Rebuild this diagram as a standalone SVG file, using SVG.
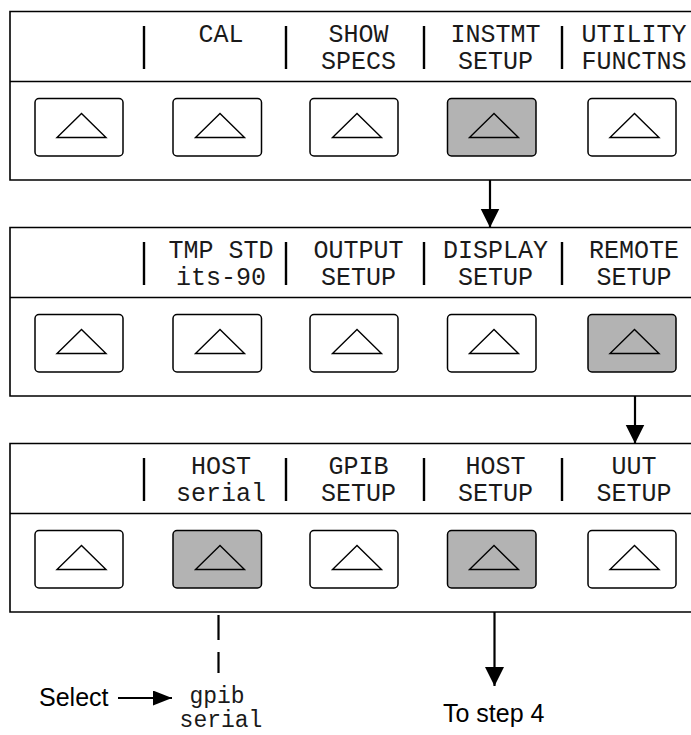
<svg xmlns="http://www.w3.org/2000/svg" width="691" height="735" viewBox="0 0 691 735">
<style>
.panel{fill:#fff;stroke:#000;stroke-width:1.6}
.div{stroke:#000;stroke-width:1.6}
.sep{stroke:#000;stroke-width:2.4}
.btn{fill:#fff;stroke:#000;stroke-width:1.5}
.on{fill:#b3b3b3}
.tri{fill:none;stroke:#000;stroke-width:1.4}
.lcd{font-family:"Liberation Mono","DejaVu Sans Mono",monospace;font-size:25px;fill:#1a1a1a;text-anchor:middle}
.sm{font-size:23px}
.lbl{font-family:"Liberation Sans",Arial,sans-serif;font-size:25px;fill:#000}
.conn{stroke:#000;stroke-width:2.2;fill:none}
</style>
<defs>
<marker id="ah" markerUnits="userSpaceOnUse" markerWidth="20" markerHeight="20" refX="19" refY="9.5" orient="auto">
<path d="M0,0 L19,9.5 L0,19 z" fill="#000"/>
</marker>
<marker id="ahs" markerUnits="userSpaceOnUse" markerWidth="20" markerHeight="16" refX="19" refY="7.5" orient="auto">
<path d="M0,0 L19,7.5 L0,15 z" fill="#000"/>
</marker>
</defs>

<!-- Panel 1 -->
<g id="panel1">
<path class="panel" d="M700,11.5 H10 V180 H700"/>
<line class="div" x1="10" y1="81.5" x2="700" y2="81.5"/>
<line class="sep" x1="144" y1="26" x2="144" y2="69"/>
<line class="sep" x1="286" y1="26" x2="286" y2="69"/>
<line class="sep" x1="424" y1="26" x2="424" y2="69"/>
<line class="sep" x1="562" y1="26" x2="562" y2="69"/>
<text class="lcd" x="221" y="42">CAL</text>
<text class="lcd" x="358.5" y="42">SHOW</text>
<text class="lcd" x="358.5" y="69">SPECS</text>
<text class="lcd" x="495.5" y="42">INSTMT</text>
<text class="lcd" x="495.5" y="69">SETUP</text>
<text class="lcd" x="634" y="42">UTILITY</text>
<text class="lcd" x="634" y="69">FUNCTNS</text>
</g>
<g id="p1b1"><rect class="btn" x="35" y="98.5" width="88" height="57.5" rx="4"/><polygon class="tri" points="81.5,113.5 57,137.5 106,137.5"/></g>
<g id="p1b2"><rect class="btn" x="173" y="98.5" width="88.5" height="57.5" rx="4"/><polygon class="tri" points="220,113.5 195.5,137.5 244.5,137.5"/></g>
<g id="p1b3"><rect class="btn" x="310" y="98.5" width="88" height="57.5" rx="4"/><polygon class="tri" points="357,113.5 332.5,137.5 381.5,137.5"/></g>
<g id="p1b4"><rect class="btn on" x="447.5" y="98.5" width="88.5" height="57.5" rx="4"/><polygon class="tri" points="494,113.5 469.5,137.5 518.5,137.5"/></g>
<g id="p1b5"><rect class="btn" x="588" y="98.5" width="88" height="57.5" rx="4"/><polygon class="tri" points="634.5,113.5 610,137.5 659,137.5"/></g>

<!-- Panel 2 -->
<g id="panel2">
<path class="panel" d="M700,227.5 H10 V396 H700"/>
<line class="div" x1="10" y1="297.5" x2="700" y2="297.5"/>
<line class="sep" x1="144" y1="242" x2="144" y2="285"/>
<line class="sep" x1="286" y1="242" x2="286" y2="285"/>
<line class="sep" x1="424" y1="242" x2="424" y2="285"/>
<line class="sep" x1="562" y1="242" x2="562" y2="285"/>
<text class="lcd" x="221" y="258">TMP STD</text>
<text class="lcd" x="221" y="285">its-90</text>
<text class="lcd" x="358.5" y="258">OUTPUT</text>
<text class="lcd" x="358.5" y="285">SETUP</text>
<text class="lcd" x="495.5" y="258">DISPLAY</text>
<text class="lcd" x="495.5" y="285">SETUP</text>
<text class="lcd" x="634" y="258">REMOTE</text>
<text class="lcd" x="634" y="285">SETUP</text>
</g>
<g id="p2b1"><rect class="btn" x="35" y="314.5" width="88" height="57.5" rx="4"/><polygon class="tri" points="81.5,329.5 57,353.5 106,353.5"/></g>
<g id="p2b2"><rect class="btn" x="173" y="314.5" width="88.5" height="57.5" rx="4"/><polygon class="tri" points="220,329.5 195.5,353.5 244.5,353.5"/></g>
<g id="p2b3"><rect class="btn" x="310" y="314.5" width="88" height="57.5" rx="4"/><polygon class="tri" points="357,329.5 332.5,353.5 381.5,353.5"/></g>
<g id="p2b4"><rect class="btn" x="447.5" y="314.5" width="88.5" height="57.5" rx="4"/><polygon class="tri" points="494,329.5 469.5,353.5 518.5,353.5"/></g>
<g id="p2b5"><rect class="btn on" x="588" y="314.5" width="88" height="57.5" rx="4"/><polygon class="tri" points="634.5,329.5 610,353.5 659,353.5"/></g>

<!-- Panel 3 -->
<g id="panel3">
<path class="panel" d="M700,443.5 H10 V612 H700"/>
<line class="div" x1="10" y1="513.5" x2="700" y2="513.5"/>
<line class="sep" x1="144" y1="458" x2="144" y2="501"/>
<line class="sep" x1="286" y1="458" x2="286" y2="501"/>
<line class="sep" x1="424" y1="458" x2="424" y2="501"/>
<line class="sep" x1="562" y1="458" x2="562" y2="501"/>
<text class="lcd" x="221" y="474">HOST</text>
<text class="lcd" x="221" y="501">serial</text>
<text class="lcd" x="358.5" y="474">GPIB</text>
<text class="lcd" x="358.5" y="501">SETUP</text>
<text class="lcd" x="495.5" y="474">HOST</text>
<text class="lcd" x="495.5" y="501">SETUP</text>
<text class="lcd" x="634" y="474">UUT</text>
<text class="lcd" x="634" y="501">SETUP</text>
</g>
<g id="p3b1"><rect class="btn" x="35" y="530.5" width="88" height="57.5" rx="4"/><polygon class="tri" points="81.5,545.5 57,569.5 106,569.5"/></g>
<g id="p3b2"><rect class="btn on" x="173" y="530.5" width="88.5" height="57.5" rx="4"/><polygon class="tri" points="220,545.5 195.5,569.5 244.5,569.5"/></g>
<g id="p3b3"><rect class="btn" x="310" y="530.5" width="88" height="57.5" rx="4"/><polygon class="tri" points="357,545.5 332.5,569.5 381.5,569.5"/></g>
<g id="p3b4"><rect class="btn on" x="447.5" y="530.5" width="88.5" height="57.5" rx="4"/><polygon class="tri" points="494,545.5 469.5,569.5 518.5,569.5"/></g>
<g id="p3b5"><rect class="btn" x="588" y="530.5" width="88" height="57.5" rx="4"/><polygon class="tri" points="634.5,545.5 610,569.5 659,569.5"/></g>

<!-- Options below -->
<g id="options">
<text class="lcd sm" x="217" y="703">gpib</text>
<text class="lcd sm" x="221" y="727">serial</text>
</g>
<g id="select"><text class="lbl" x="39" y="706">Select</text></g>
<g id="tostep4"><text class="lbl" x="443" y="722">To step 4</text></g>

<!-- Connectors -->
<g id="connectors">
<line class="conn" x1="490" y1="180" x2="490" y2="227.5" marker-end="url(#ah)"/>
<line class="conn" x1="635" y1="396" x2="635" y2="443.5" marker-end="url(#ah)"/>
<line class="conn" x1="494.5" y1="612" x2="494.5" y2="686" marker-end="url(#ah)"/>
<line class="conn" x1="118" y1="698" x2="172" y2="698" marker-end="url(#ahs)"/>
<path class="conn" d="M218.5,615 V640 M218.5,652 V673"/>
</g>
</svg>
